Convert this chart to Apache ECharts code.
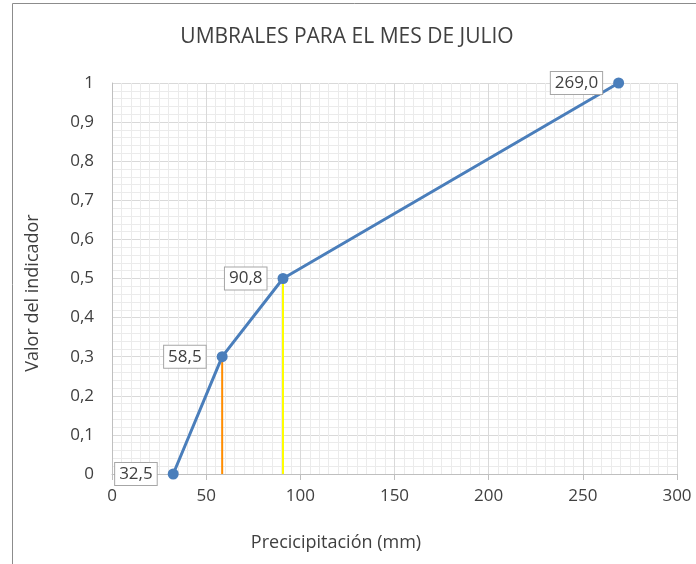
<!DOCTYPE html>
<html>
<head>
<meta charset="utf-8">
<script src="https://cdn.jsdelivr.net/npm/echarts@6/dist/echarts.min.js"></script>
<style>
  html, body { margin: 0; padding: 0; background: #fff; }
  #chart { width: 696px; height: 564px; }
</style>
</head>
<body>
<div id="chart"></div>
<script>
// umbrales de precipitación (mm) y valor del indicador
const precipitacion = [32.5, 58.5, 90.8, 269.0];
const indicador = [0, 0.3, 0.5, 1];
const labelPos = ["left", "left", "left", "left"];
const xTicks = [0, 50, 100, 150, 200, 250, 300];

// líneas verticales de referencia
const lineaNaranja = [[58.5, 0], [58.5, 0.3]];
const lineaAmarilla = [[90.8, 0], [90.8, 0.5]];

const chart = echarts.init(document.getElementById("chart"));
const font = "'Open Sans', 'Noto Sans', sans-serif";
const txt = "#404040";

chart.setOption({
  animation: false,
  textStyle: { fontFamily: font },
  title: {
    text: "UMBRALES PARA EL MES DE JULIO",
    left: 342,
    textAlign: "center",
    top: 22,
    textStyle: { fontSize: 21, fontWeight: "normal", color: txt, fontFamily: font }
  },
  graphic: [
    {
      type: "rect",
      shape: { x: 12.5, y: 3.5, width: 700, height: 620 },
      style: { fill: "none", stroke: "#8c8c8c", lineWidth: 1 },
      silent: true
    },
    {
      type: "text",
      x: 336,
      y: 543,
      style: {
        text: "Precicipitación (mm)",
        font: "18px " + font,
        fill: txt,
        textAlign: "center",
        textVerticalAlign: "middle"
      },
      silent: true
    },
    {
      type: "text",
      x: 33,
      y: 293,
      rotation: Math.PI / 2,
      style: {
        text: "Valor del indicador",
        font: "18px " + font,
        fill: txt,
        textAlign: "center",
        textVerticalAlign: "middle"
      },
      silent: true
    }
  ],
  grid: { left: 112, right: 19, top: 83, bottom: 90 },
  xAxis: {
    type: "value",
    min: xTicks[0],
    max: xTicks[xTicks.length - 1],
    interval: 50,
    axisLine: { show: true, lineStyle: { color: "#bfbfbf" } },
    axisTick: { show: true, length: 6, lineStyle: { color: "#bfbfbf" } },
    axisLabel: { fontSize: 17, color: txt, margin: 14 },
    splitLine: { show: true, lineStyle: { color: "#d9d9d9" } },
    minorTick: { show: false, splitNumber: 10 },
    minorSplitLine: { show: true, lineStyle: { color: "#ebebeb" } }
  },
  yAxis: {
    type: "value",
    min: 0,
    max: 1,
    interval: 0.1,
    axisLine: { show: true, lineStyle: { color: "#bfbfbf" } },
    axisTick: { show: false },
    axisLabel: {
      fontSize: 17,
      color: txt,
      margin: 18,
      formatter: v => String(Math.round(v * 10) / 10).replace(".", ",")
    },
    splitLine: { show: true, lineStyle: { color: "#d9d9d9" } },
    minorTick: { show: false, splitNumber: 5 },
    minorSplitLine: { show: true, lineStyle: { color: "#ebebeb" } }
  },
  series: [
    {
      type: "line",
      data: lineaNaranja,
      symbol: "none",
      lineStyle: { color: "#ff8c00", width: 2 },
      z: 1
    },
    {
      type: "line",
      data: lineaAmarilla,
      symbol: "none",
      lineStyle: { color: "#ffff00", width: 2 },
      z: 1
    },
    {
      type: "line",
      data: precipitacion.map((p, i) => ({
        value: [p, indicador[i]],
        label: { position: labelPos[i] }
      })),
      symbol: "circle",
      symbolSize: 11,
      lineStyle: { color: "#4a7ebb", width: 3 },
      itemStyle: { color: "#4a7ebb" },
      z: 3,
      label: {
        show: true,
        distance: 11,
        formatter: p => p.value[0].toFixed(1).replace(".", ","),
        fontSize: 17,
        color: txt,
        backgroundColor: "#fff",
        borderColor: "#a6a6a6",
        borderWidth: 1,
        padding: [3, 4, 2, 4]
      }
    }
  ]
});
</script>
</body>
</html>
